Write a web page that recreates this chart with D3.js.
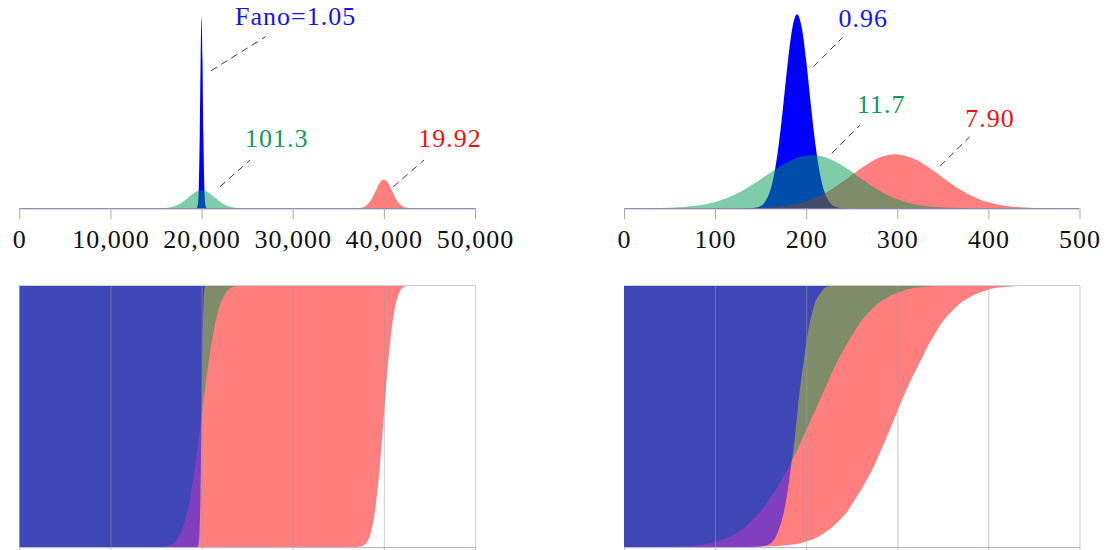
<!DOCTYPE html>
<html><head><meta charset="utf-8">
<script src="https://cdn.jsdelivr.net/npm/d3@7"></script>
<style>
body{margin:0;background:#fff}
svg{display:block}
text{font-family:"Liberation Serif","DejaVu Serif",serif}
</style>
</head><body>
<svg id="c" width="1117" height="550"></svg>
<script>
// ---------- data ----------
const leftTicks  = [0, 10000, 20000, 30000, 40000, 50000];
const rightTicks = [0, 100, 200, 300, 400, 500];

// probability densities (relative height), left panel
const leftBlueX  = [19400,19500,19600,19700,19800,19900,20000,20100,20200,20300,20400,20500,20600];
const leftBlueD  = [0,0.003,0.022,0.116,0.380,0.776,0.985,0.776,0.380,0.116,0.022,0.003,0];
const leftGreenX = [14500,15000,15500,16000,16500,17000,17500,18000,18500,19000,19500,20000,20500,21000,21500,22000,22500,23000,23500,24000,24500,25000,25500];
const leftGreenD = [0,0.0002,0.0006,0.0018,0.0045,0.0101,0.0199,0.0346,0.0533,0.0727,0.0874,0.093,0.0874,0.0727,0.0533,0.0346,0.0199,0.0101,0.0045,0.0018,0.0006,0.0002,0];
const leftRedX   = [36500,37000,37500,38000,38250,38500,38750,39000,39250,39500,39750,40000,40250,40500,40750,41000,41250,41500,41750,42000,42500,43000,43500];
const leftRedD   = [0,0.0005,0.0030,0.0121,0.0218,0.0363,0.0559,0.0796,0.1047,0.1274,0.1433,0.149,0.1433,0.1274,0.1047,0.0796,0.0559,0.0363,0.0218,0.0121,0.0030,0.0005,0];

// probability densities (relative height), right panel
const rightBlueX  = [120,140,150,155,160,165,170,175,180,185,190,195,200,205,210,215,220,225,230,240,260];
const rightBlueD  = [0,0.001,0.012,0.035,0.085,0.180,0.334,0.539,0.760,0.934,1.0,0.934,0.760,0.539,0.334,0.180,0.085,0.035,0.012,0.001,0];
const rightGreenX = [0,20,40,60,80,100,120,140,160,180,200,207,220,240,260,280,300,320,340,360,380,400,420];
const rightGreenD = [0,0.0004,0.0016,0.0050,0.0138,0.033,0.067,0.119,0.181,0.239,0.271,0.273,0.264,0.219,0.154,0.092,0.0467,0.0201,0.0074,0.0023,0.0006,0.0001,0];
const rightRedX   = [100,140,160,180,200,220,240,260,280,298,320,340,360,380,400,420,440,460,480,500];
const rightRedD   = [0,0.0014,0.0050,0.0148,0.0367,0.0771,0.137,0.205,0.260,0.278,0.251,0.192,0.124,0.0674,0.031,0.0121,0.0040,0.0011,0.0003,0];

// cumulative distribution: x reached at each cumulative level
const levels = [0,0.001,0.01,0.025,0.05,0.1,0.2,0.3,0.4,0.5,0.6,0.7,0.8,0.9,0.95,0.975,0.99,0.999,1];
const leftBlueQ   = [19420,19552,19663,19716,19761,19814,19878,19924,19963,20000,20037,20076,20122,20186,20239,20284,20337,20448,20580];
const leftGreenQ  = [14308,15603,16690,17211,17659,18176,18802,19254,19640,20000,20360,20746,21198,21824,22341,22789,23310,24397,25692];
const leftRedQ    = [36428,37241,37923,38250,38531,38856,39248,39532,39774,40000,40226,40468,40752,41144,41469,41750,42077,42759,43572];
const rightBlueQ  = [136,148,159,164,168,173,179,183,187,190,193,197,201,207,212,217,221,232,244];
const rightGreenQ = [0,46,86,105,122,140,163,180,194,207,220,233,249,270,288,304,322,360,405];
const rightRedQ   = [103,148,185,203,218,236,257,273,286,298,310,324,339,360,378,394,411,449,493];

// Fano factor labels
const leftLabels  = ["Fano=1.05", "101.3", "19.92"];
const rightLabels = ["0.96", "11.7", "7.90"];

// ---------- layout / style ----------
const COL = {blue:"#0000ff", green:"rgb(0,153,85)", red:"#ff0000"};
const TXT = {blue:"#1414f0", green:"#12985e", red:"#ee1111"};
const annLeft = [
  {lab:[23667,0.943], l:[[21034,0.709],[27036,0.885]]},
  {lab:[24763,0.314], l:[[22021,0.111],[25313,0.249]]},
  {lab:[43779,0.314], l:[[41036,0.111],[44404,0.249]]}
];
const annRight = [
  {lab:[235.5,0.933], l:[[208,0.730],[240,0.881]]},
  {lab:[255.7,0.490], l:[[228,0.284],[259,0.429]]},
  {lab:[374.7,0.418], l:[[347,0.218],[379.5,0.369]]}
];

const zip = (xs, ys) => xs.map((x,i)=>({x, y: ys[i]}));
const panels = [
  {ticks:leftTicks, fmt:d3.format(","), r:[19.3,475], labels:leftLabels, ann:annLeft,
   blue:{d:zip(leftBlueX,leftBlueD), q:leftBlueQ},
   green:{d:zip(leftGreenX,leftGreenD), q:leftGreenQ},
   red:{d:zip(leftRedX,leftRedD), q:leftRedQ}},
  {ticks:rightTicks, fmt:d3.format(","), r:[624,1079.5], labels:rightLabels, ann:annRight,
   blue:{d:zip(rightBlueX,rightBlueD), q:rightBlueQ},
   green:{d:zip(rightGreenX,rightGreenD), q:rightGreenQ},
   red:{d:zip(rightRedX,rightRedD), q:rightRedQ}}
];

const svg = d3.select("#c");
svg.append("rect").attr("width",1117).attr("height",550).attr("fill","#fff");

const AXY = 208.3, TOPY = 14.3;     // top panels
const BT = 285, BB = 547;           // bottom panels

panels.forEach((p, pi) => {
  const x = d3.scaleLinear().domain([p.ticks[0], p.ticks[p.ticks.length-1]]).range(p.r);
  const y = d3.scaleLinear().domain([0,1]).range([AXY, TOPY]);

  // ---------- top: densities ----------
  const g = svg.append("g");
  const area = d3.area().curve(d3.curveMonotoneX)
      .x(d=>x(d.x)).y0(y(0)).y1(d=>y(d.y));
  g.append("path").datum(p.blue.d).attr("d",area).attr("fill",COL.blue);
  g.append("path").datum(p.red.d).attr("d",area).attr("fill",COL.red).attr("fill-opacity",0.5);
  g.append("path").datum(p.green.d).attr("d",area).attr("fill",COL.green).attr("fill-opacity",0.5);

  const ax = g.append("g").attr("transform",`translate(0,${AXY})`)
    .call(d3.axisBottom(x).tickValues(p.ticks).tickFormat(p.fmt).tickSize(11).tickPadding(10));
  ax.select(".domain").attr("stroke","#68689a").attr("stroke-width",1.1).attr("d",`M${p.r[0]},0.5H${p.r[1]}`);
  ax.selectAll(".tick line").attr("stroke","#aaa");
  ax.selectAll(".tick text").attr("fill","#111").style("font-size","26px")
    .style("letter-spacing","1px")
    .style("font-family",'"Liberation Serif","DejaVu Serif",serif');

  const cols = ["blue","green","red"];
  p.ann.forEach((a,i) => {
    g.append("line")
      .attr("x1",x(a.l[0][0])).attr("y1",y(a.l[0][1]))
      .attr("x2",x(a.l[1][0])).attr("y2",y(a.l[1][1]))
      .attr("stroke","#3a3a3a").attr("stroke-width",1).attr("stroke-dasharray","7,5");
    g.append("text").attr("x",x(a.lab[0])).attr("y",y(a.lab[1]))
      .attr("fill",TXT[cols[i]]).style("font-size","26px").style("letter-spacing","1px")
      .text(p.labels[i]);
  });

  // ---------- bottom: cumulative distributions ----------
  const yb = d3.scaleLinear().domain([0,1]).range([BB, BT]);
  const b = svg.append("g");
  const clipId = "clip"+pi;
  svg.append("clipPath").attr("id",clipId).append("rect")
    .attr("x",p.r[0]).attr("y",BT).attr("width",p.r[1]-p.r[0]).attr("height",BB-BT);
  const fills = b.append("g").attr("clip-path",`url(#${clipId})`);
  const carea = d3.area().curve(d3.curveMonotoneY)
      .y(d=>yb(d.l)).x0(x(p.ticks[0])).x1(d=>x(d.q));
  const mk = q => levels.map((l,i)=>({l, q:q[i]})).reverse();
  fills.append("path").datum(mk(p.red.q)).attr("d",carea).attr("fill",COL.red).attr("fill-opacity",0.5);
  fills.append("path").datum(mk(p.green.q)).attr("d",carea).attr("fill",COL.green).attr("fill-opacity",0.5);
  fills.append("path").datum(mk(p.blue.q)).attr("d",carea).attr("fill",COL.blue).attr("fill-opacity",0.5);

  // grid
  b.selectAll("line.grid").data(p.ticks.slice(1,-1)).join("line").attr("class","grid")
    .attr("x1",d=>x(d)+0.5).attr("x2",d=>x(d)+0.5).attr("y1",BT).attr("y2",BB)
    .attr("stroke","#9a9a9a").attr("stroke-opacity",0.55);
  // frame
  b.append("path").attr("d",`M${p.r[0]},${BT+0.5}H${p.r[1]+0.5}V${BB}`)
    .attr("fill","none").attr("stroke","#cfcfcf");
  const bx = b.append("g").attr("transform",`translate(0,${BB})`)
    .call(d3.axisBottom(x).tickValues(p.ticks).tickFormat("").tickSize(11));
  bx.select(".domain").attr("stroke","#b8b8d0").attr("d",`M${p.r[0]},0.5H${p.r[1]}`);
  bx.selectAll(".tick line").attr("stroke","#bbb");
});
</script>
</body></html>
